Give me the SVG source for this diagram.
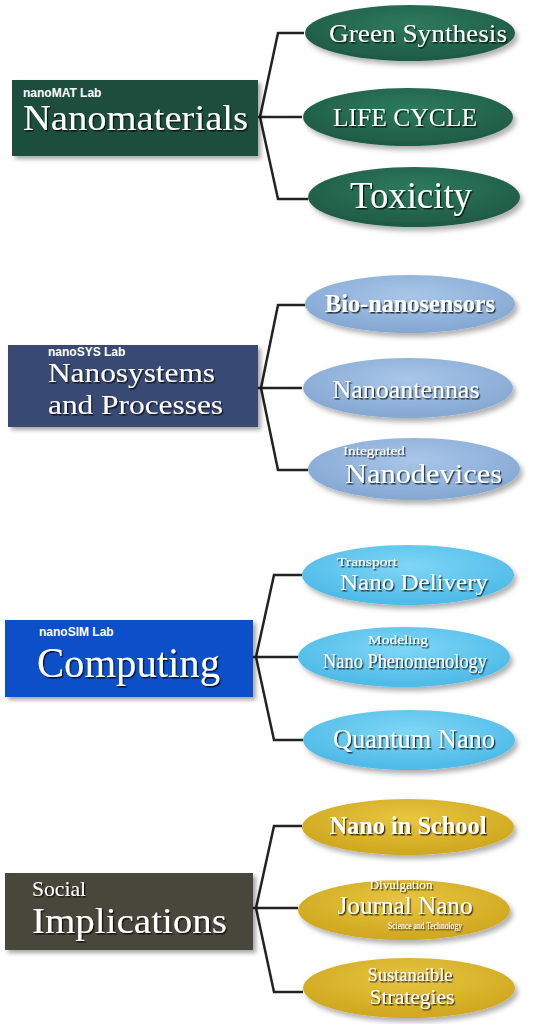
<svg xmlns="http://www.w3.org/2000/svg" width="539" height="1024" viewBox="0 0 539 1024">
<style>
.bg{fill:#ffffff}
.conn{fill:none;stroke:#222;stroke-width:2.5;stroke-linejoin:miter}
.t{font-family:"Liberation Serif","Times New Roman",serif;fill:#fff;filter:url(#ts)}
.lab{font-family:"Liberation Sans",Arial,sans-serif;font-weight:bold;font-size:12px;fill:#fff}
.box{filter:url(#bs)}
.ell{filter:url(#es)}
</style>
<defs>
<filter id="ts" x="-10%" y="-30%" width="130%" height="170%">
<feDropShadow dx="1.3" dy="1.5" stdDeviation="0.7" flood-color="#000" flood-opacity="0.75"/>
</filter>
<filter id="bs" x="-5%" y="-10%" width="115%" height="130%">
<feDropShadow dx="3" dy="3" stdDeviation="2" flood-color="#000" flood-opacity="0.35"/>
</filter>
<filter id="es" x="-10%" y="-20%" width="125%" height="150%">
<feDropShadow dx="3" dy="4" stdDeviation="2.5" flood-color="#000" flood-opacity="0.3"/>
</filter>
<radialGradient id="gGreen" cx="50%" cy="35%" r="60%">
<stop offset="0" stop-color="#2e7a5e"/><stop offset="1" stop-color="#1f5c46"/>
</radialGradient>
<radialGradient id="gBlue" cx="50%" cy="35%" r="60%">
<stop offset="0" stop-color="#a8c6e8"/><stop offset="1" stop-color="#86a9d4"/>
</radialGradient>
<radialGradient id="gCyan" cx="50%" cy="35%" r="60%">
<stop offset="0" stop-color="#7fd6f6"/><stop offset="1" stop-color="#4fbbe8"/>
</radialGradient>
<radialGradient id="gGold" cx="50%" cy="35%" r="60%">
<stop offset="0" stop-color="#e8c640"/><stop offset="1" stop-color="#d0a820"/>
</radialGradient>
</defs>
<rect class="bg" x="0" y="0" width="539" height="1024"/>

<g id="connectors">
<path class="conn" d="M304 33 H278 L260 117 L278 199 H308 M258 117 H302"/>
<path class="conn" d="M305 305 H278 L261 388 L278 470 H308 M258 388 H302"/>
<path class="conn" d="M302 575 H274 L256 657 L274 740 H303 M253 657 H298"/>
<path class="conn" d="M302 826 H274 L256 908 L274 992 H303 M253 908 H298"/>
</g>

<g id="nanomaterials">
<rect class="box" x="12" y="80" width="246" height="76" fill="#1c4d3d"/>
<text class="lab" x="23" y="97">nanoMAT Lab</text>
<text class="t" x="23" y="130" font-size="35" textLength="225" lengthAdjust="spacingAndGlyphs">Nanomaterials</text>
</g>
<g id="green-synthesis">
<ellipse class="ell" cx="410" cy="33" rx="105" ry="28" fill="url(#gGreen)"/>
<text class="t" x="418" y="42" font-size="26" text-anchor="middle" textLength="178" lengthAdjust="spacingAndGlyphs">Green Synthesis</text>
</g>
<g id="life-cycle">
<ellipse class="ell" cx="408" cy="117" rx="105" ry="29" fill="url(#gGreen)"/>
<text class="t" x="405" y="126" font-size="26" text-anchor="middle" textLength="144" lengthAdjust="spacingAndGlyphs">LIFE CYCLE</text>
</g>
<g id="toxicity">
<ellipse class="ell" cx="414" cy="197" rx="106" ry="30" fill="url(#gGreen)"/>
<text class="t" x="411" y="208" font-size="38" text-anchor="middle" textLength="122" lengthAdjust="spacingAndGlyphs">Toxicity</text>
</g>

<g id="nanosystems">
<rect class="box" x="8" y="345" width="250" height="82" fill="#394873"/>
<text class="lab" x="48" y="356">nanoSYS Lab</text>
<text class="t" x="48" y="382" font-size="27" textLength="167" lengthAdjust="spacingAndGlyphs">Nanosystems</text>
<text class="t" x="48" y="414" font-size="27" textLength="175" lengthAdjust="spacingAndGlyphs">and Processes</text>
</g>
<g id="bio-nanosensors">
<ellipse class="ell" cx="410" cy="304" rx="105" ry="29" fill="url(#gBlue)"/>
<text class="t" x="410" y="312" font-size="26" font-weight="bold" text-anchor="middle" textLength="170" lengthAdjust="spacingAndGlyphs">Bio-nanosensors</text>
</g>
<g id="nanoantennas">
<ellipse class="ell" cx="408" cy="388" rx="105" ry="30" fill="url(#gBlue)"/>
<text class="t" x="406" y="398" font-size="25" text-anchor="middle" textLength="147" lengthAdjust="spacingAndGlyphs">Nanoantennas</text>
</g>
<g id="integrated-nanodevices">
<ellipse class="ell" cx="414" cy="469" rx="106" ry="31" fill="url(#gBlue)"/>
<text class="t" x="343" y="455" font-size="13" textLength="62" lengthAdjust="spacingAndGlyphs">Integrated</text>
<text class="t" x="345" y="483" font-size="27" textLength="157" lengthAdjust="spacingAndGlyphs">Nanodevices</text>
</g>

<g id="computing">
<rect class="box" x="5" y="620" width="248" height="77" fill="#1150c8"/>
<text class="lab" x="39" y="636">nanoSIM Lab</text>
<text class="t" x="37" y="677" font-size="42" textLength="183" lengthAdjust="spacingAndGlyphs">Computing</text>
</g>
<g id="nano-delivery">
<ellipse class="ell" cx="408" cy="575" rx="106" ry="30" fill="url(#gCyan)"/>
<text class="t" x="337" y="566" font-size="13" textLength="60" lengthAdjust="spacingAndGlyphs">Transport</text>
<text class="t" x="340" y="590" font-size="24" textLength="148" lengthAdjust="spacingAndGlyphs">Nano Delivery</text>
</g>
<g id="nano-phenomenology">
<ellipse class="ell" cx="404" cy="657" rx="106" ry="30" fill="url(#gCyan)"/>
<text class="t" x="398" y="644" font-size="13" text-anchor="middle" textLength="60" lengthAdjust="spacingAndGlyphs">Modeling</text>
<text class="t" x="405" y="668" font-size="22" text-anchor="middle" textLength="164" lengthAdjust="spacingAndGlyphs">Nano Phenomenology</text>
</g>
<g id="quantum-nano">
<ellipse class="ell" cx="409" cy="740" rx="106" ry="30" fill="url(#gCyan)"/>
<text class="t" x="414" y="748" font-size="28" text-anchor="middle" textLength="162" lengthAdjust="spacingAndGlyphs">Quantum Nano</text>
</g>

<g id="social-implications">
<rect class="box" x="5" y="873" width="248" height="77" fill="#47463a"/>
<text class="t" x="32" y="896" font-size="21" textLength="54" lengthAdjust="spacingAndGlyphs">Social</text>
<text class="t" x="32" y="933" font-size="36" textLength="195" lengthAdjust="spacingAndGlyphs">Implications</text>
</g>
<g id="nano-in-school">
<ellipse class="ell" cx="408" cy="827" rx="106" ry="28" fill="url(#gGold)"/>
<text class="t" x="408" y="834" font-size="25" font-weight="bold" text-anchor="middle" textLength="157" lengthAdjust="spacingAndGlyphs">Nano in School</text>
</g>
<g id="journal-nano">
<ellipse class="ell" cx="404" cy="910" rx="106" ry="30" fill="url(#gGold)"/>
<text class="t" x="401" y="889" font-size="13" text-anchor="middle" textLength="63" lengthAdjust="spacingAndGlyphs">Divulgation</text>
<text class="t" x="405" y="914" font-size="25" text-anchor="middle" textLength="135" lengthAdjust="spacingAndGlyphs">Journal Nano</text>
<text class="t" x="425" y="929" font-size="10" text-anchor="middle" textLength="74" lengthAdjust="spacingAndGlyphs">Science and Technology</text>
</g>
<g id="sustainable-strategies">
<ellipse class="ell" cx="409" cy="988" rx="106" ry="30" fill="url(#gGold)"/>
<text class="t" x="410" y="981" font-size="18" text-anchor="middle" textLength="85" lengthAdjust="spacingAndGlyphs">Sustanaible</text>
<text class="t" x="412" y="1004" font-size="21" text-anchor="middle" textLength="85" lengthAdjust="spacingAndGlyphs">Strategies</text>
</g>
</svg>
